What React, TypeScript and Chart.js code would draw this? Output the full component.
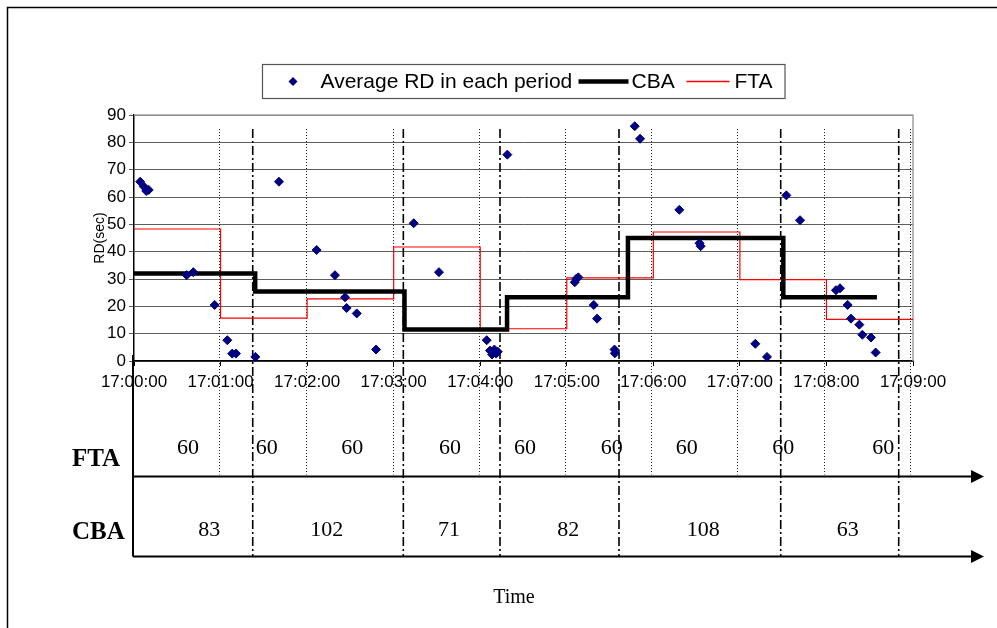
import React, { useEffect, useRef } from 'react';
import { Chart, registerables } from 'chart.js';

Chart.register(...registerables);

const W = 997;
const H = 628;

// Seconds after 17:00:00 and the average RD (sec) of each period
const rdTimes = [
  4.3, 6.8, 8.5, 10.2, 36.5, 41.1, 55.9, 64.7, 68.1, 70.7, 84.1, 100.5,
  126.6, 139.3, 146.3, 147.4, 154.4, 167.8, 193.9, 211.4, 244.5,
  246.8, 248.2, 249.8, 251.0, 252.2, 258.8,
  305.5, 306.8, 308.0, 318.7, 321.0, 333.1, 333.3, 347.1, 350.8, 378.0, 392.0, 392.8,
  430.7, 438.8, 452.2, 461.7, 486.6, 489.4, 494.7, 497.0, 502.8, 504.9, 510.9, 514.1,
];
const rdValues = [
  65.6, 63.8, 62.2, 62.6, 31.4, 32.5, 20.5, 7.6, 2.7, 2.7, 1.5, 65.6,
  40.6, 31.4, 23.3, 19.4, 17.4, 4.2, 50.4, 32.5, 7.6,
  3.8, 2.4, 4.2, 2.7, 3.4, 75.5,
  28.8, 30.2, 30.6, 20.5, 15.5, 4.2, 2.8, 85.9, 81.3, 55.3, 43.1, 42.0,
  6.3, 1.5, 60.6, 51.5, 25.9, 26.6, 20.5, 15.5, 13.3, 9.6, 8.6, 3.1,
];

// CBA step line: start time of each level and its value (last = end point)
const cbaStepTimes = [0, 84, 187.5, 258.6, 342.4, 450.1, 515];
const cbaStepValues = [32, 25.4, 11.5, 23.3, 45, 23.3, 23.3];

// FTA step line
const ftaStepTimes = [0, 60, 120, 180, 240, 300, 360, 420, 480, 540];
const ftaStepValues = [48.3, 15.7, 22.7, 41.7, 11.8, 30.4, 47.2, 29.8, 15.2, 15.2];

// Period boundaries (seconds after 17:00:00)
const ftaBoundaryTimes = [59.2, 119.2, 179.3, 239.2, 298.7, 358.4, 418.3, 478.4, 538.1];
const cbaBoundaryTimes = [82.3, 186.7, 253.7, 336.2, 448.3, 530.1];

// Period lengths shown under the chart
const ftaPeriodLabels = ['60', '60', '60', '60', '60', '60', '60', '60', '60'];
const ftaLabelTimes = [37.4, 92, 151.3, 219, 271, 331.1, 383.1, 450.1, 519.4];
const cbaPeriodLabels = ['83', '102', '71', '82', '108', '63'];
const cbaLabelTimes = [52.2, 133.6, 218.4, 301.1, 394.6, 494.7];

const xMin = 0;
const xMax = 540;
const xStep = 60;
const yMin = 0;
const yMax = 90;
const yStep = 10;

const SANS = '"Liberation Sans", Arial, sans-serif';
const SERIF = '"Liberation Serif", "Times New Roman", serif';

function fmtTime(v: number): string {
  const total = Math.round(v);
  const m = Math.floor(total / 60);
  const s = total % 60;
  return `17:${String(m).padStart(2, '0')}:${String(s).padStart(2, '0')}`;
}

const overlayPlugin = {
  id: 'overlay',
  beforeDraw(chart: any) {
    const ctx = chart.ctx;
    ctx.save();
    ctx.fillStyle = '#ffffff';
    ctx.fillRect(0, 0, chart.width, chart.height);
    // outer frame (left and top visible)
    ctx.strokeStyle = '#000';
    ctx.lineWidth = 1.5;
    ctx.beginPath();
    ctx.moveTo(7.5, chart.height);
    ctx.lineTo(7.5, 7.5);
    ctx.lineTo(chart.width, 7.5);
    ctx.stroke();
    ctx.restore();
  },
  beforeDatasetsDraw(chart: any) {
    const ctx = chart.ctx;
    const xs = chart.scales.x;
    const area = chart.chartArea;
    ctx.save();
    // plot border top / right
    ctx.strokeStyle = '#a0a0a0';
    ctx.lineWidth = 1.5;
    ctx.beginPath();
    ctx.moveTo(area.left, area.top);
    ctx.lineTo(area.right, area.top);
    ctx.lineTo(area.right, area.bottom);
    ctx.stroke();

    const top = area.top + 14;
    const ftaAxisY = area.bottom + 115.5;
    const cbaAxisY = area.bottom + 195.5;
    // dotted FTA boundaries
    ctx.strokeStyle = '#222';
    ctx.lineWidth = 1;
    ctx.setLineDash([1, 2]);
    ftaBoundaryTimes.forEach((t) => {
      const x = Math.round(xs.getPixelForValue(t)) + 0.5;
      ctx.beginPath();
      ctx.moveTo(x, top);
      ctx.lineTo(x, ftaAxisY - 2);
      ctx.stroke();
    });
    // dash-dot CBA boundaries
    ctx.strokeStyle = '#000';
    ctx.lineWidth = 1.6;
    ctx.setLineDash([9, 3, 2, 3]);
    cbaBoundaryTimes.forEach((t) => {
      const x = xs.getPixelForValue(t);
      ctx.beginPath();
      ctx.moveTo(x, top);
      ctx.lineTo(x, cbaAxisY);
      ctx.stroke();
    });
    ctx.restore();
  },
  afterDraw(chart: any) {
    const ctx = chart.ctx;
    const xs = chart.scales.x;
    const area = chart.chartArea;
    const ds = chart.data.datasets;
    ctx.save();

    // ---- legend box ----
    const cx = (area.left + area.right) / 2;
    const boxL = cx - 261;
    const boxR = cx + 261.5;
    const boxT = 64.5;
    const boxB = 98.5;
    const midY = 81.5;
    ctx.fillStyle = '#fff';
    ctx.fillRect(boxL, boxT, boxR - boxL, boxB - boxT);
    ctx.strokeStyle = '#555';
    ctx.lineWidth = 1.2;
    ctx.strokeRect(boxL, boxT, boxR - boxL, boxB - boxT);

    ctx.font = `21px ${SANS}`;
    ctx.textBaseline = 'middle';
    ctx.textAlign = 'left';
    // scatter item
    const d0 = ds[0];
    const dx = boxL + 30.5;
    const r = 4.5;
    ctx.fillStyle = d0.pointBackgroundColor;
    ctx.beginPath();
    ctx.moveTo(dx - r, midY);
    ctx.lineTo(dx, midY - r);
    ctx.lineTo(dx + r, midY);
    ctx.lineTo(dx, midY + r);
    ctx.closePath();
    ctx.fill();
    ctx.fillStyle = '#000';
    ctx.fillText(d0.label, boxL + 58, midY + 1);
    // CBA item
    const d1 = ds[1];
    ctx.strokeStyle = d1.borderColor;
    ctx.lineWidth = d1.borderWidth;
    ctx.beginPath();
    ctx.moveTo(boxL + 316, midY);
    ctx.lineTo(boxL + 366, midY);
    ctx.stroke();
    ctx.fillText(d1.label, boxL + 369, midY + 1);
    // FTA item
    const d2 = ds[2];
    ctx.strokeStyle = d2.borderColor;
    ctx.lineWidth = 1.5;
    ctx.beginPath();
    ctx.moveTo(boxL + 424, midY);
    ctx.lineTo(boxL + 467, midY);
    ctx.stroke();
    ctx.fillText(d2.label, boxL + 472, midY + 1);

    // ---- lower time table ----
    const ftaAxisY = area.bottom + 115.5;
    const cbaAxisY = area.bottom + 195.5;
    const lineL = area.left - 1;
    const arrowTip = 984;
    ctx.strokeStyle = '#000';
    ctx.fillStyle = '#000';
    ctx.lineWidth = 2;
    ctx.beginPath();
    ctx.moveTo(lineL, area.bottom - 6);
    ctx.lineTo(lineL, cbaAxisY);
    ctx.stroke();
    [ftaAxisY, cbaAxisY].forEach((y) => {
      ctx.beginPath();
      ctx.moveTo(lineL, y);
      ctx.lineTo(arrowTip - 12, y);
      ctx.stroke();
      ctx.beginPath();
      ctx.moveTo(arrowTip - 13, y - 6.5);
      ctx.lineTo(arrowTip, y);
      ctx.lineTo(arrowTip - 13, y + 6.5);
      ctx.closePath();
      ctx.fill();
    });

    ctx.font = `bold 25px ${SERIF}`;
    ctx.textAlign = 'left';
    ctx.textBaseline = 'middle';
    ctx.fillText('FTA', 72, area.bottom + 99);
    ctx.fillText('CBA', 72, area.bottom + 171.5);

    ctx.font = `22px ${SERIF}`;
    ctx.textAlign = 'center';
    ftaPeriodLabels.forEach((txt, i) => {
      ctx.fillText(txt, xs.getPixelForValue(ftaLabelTimes[i]), area.bottom + 87);
    });
    cbaPeriodLabels.forEach((txt, i) => {
      ctx.fillText(txt, xs.getPixelForValue(cbaLabelTimes[i]), area.bottom + 169);
    });

    ctx.font = `20px ${SERIF}`;
    ctx.fillText('Time', xs.getPixelForValue(263.4), area.bottom + 237);
    ctx.restore();
  },
};

export default function App() {
  const ref = useRef<HTMLCanvasElement>(null);

  useEffect(() => {
    const canvas = ref.current;
    if (!canvas) return;
    Chart.defaults.font.family = SANS;
    Chart.defaults.color = '#000';

    const chart = new Chart(canvas, {
      type: 'scatter',
      data: {
        datasets: [
          {
            type: 'scatter',
            label: 'Average RD in each period',
            data: rdTimes.map((t, i) => ({ x: t, y: rdValues[i] })),
            pointStyle: 'rectRot',
            pointRadius: 4.5,
            pointBackgroundColor: '#000080',
            pointBorderColor: '#000080',
            pointBorderWidth: 1,
            clip: false,
            order: 0,
          } as any,
          {
            type: 'line',
            label: 'CBA',
            data: cbaStepTimes.map((t, i) => ({ x: t, y: cbaStepValues[i] })),
            borderColor: '#000000',
            borderWidth: 4.5,
            pointRadius: 0,
            stepped: 'before',
            fill: false,
            order: 1,
          } as any,
          {
            type: 'line',
            label: 'FTA',
            data: ftaStepTimes.map((t, i) => ({ x: t, y: ftaStepValues[i] })),
            borderColor: '#ff0000',
            borderWidth: 1.2,
            pointRadius: 0,
            stepped: 'before',
            fill: false,
            order: 2,
          } as any,
        ],
      },
      options: {
        responsive: false,
        animation: false,
        devicePixelRatio: 1,
        layout: { padding: { left: 86, top: 115, right: 84, bottom: 227 } },
        plugins: {
          legend: { display: false },
          tooltip: { enabled: false },
          title: { display: false },
        },
        scales: {
          x: {
            type: 'linear',
            min: xMin,
            max: xMax,
            afterFit: (s: any) => {
              s.height = 40;
            },
            border: { display: true, color: '#000', width: 1.5 },
            grid: { drawOnChartArea: false, drawTicks: true, tickLength: 5, color: '#000' },
            ticks: {
              stepSize: xStep,
              autoSkip: false,
              maxRotation: 0,
              color: '#000',
              font: { size: 17, family: SANS },
              padding: 6,
              callback: (v: any) => fmtTime(Number(v)),
            },
          },
          y: {
            min: yMin,
            max: yMax,
            afterFit: (s: any) => {
              s.width = 48;
            },
            border: { display: true, color: '#000', width: 1.5 },
            grid: { color: '#5e5e5e', lineWidth: 1, drawTicks: true, tickLength: 5 },
            ticks: {
              stepSize: yStep,
              color: '#000',
              font: { size: 17, family: SANS },
              padding: 3,
            },
            title: {
              display: true,
              text: 'RD(sec)',
              color: '#000',
              font: { size: 14, family: SANS },
              padding: { top: 6, bottom: 0 },
            },
          },
        },
      } as any,
      plugins: [overlayPlugin],
    });
    return () => chart.destroy();
  }, []);

  return (
    <div style={{ position: 'absolute', left: 0, top: 0, width: W, height: H, background: '#fff' }}>
      <canvas ref={ref} width={W} height={H} style={{ width: W, height: H, display: 'block' }} />
    </div>
  );
}
